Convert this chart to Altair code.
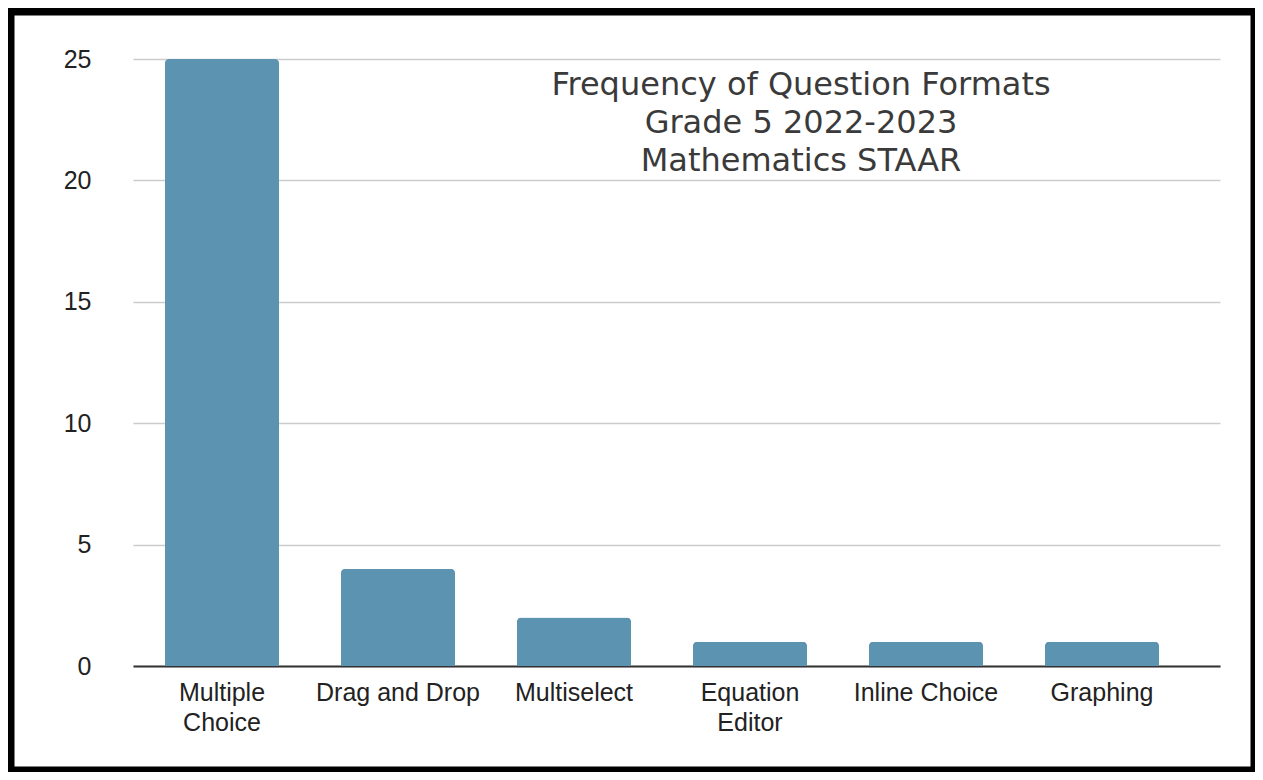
import altair as alt
import pandas as pd

categories = ["Multiple Choice", "Drag and Drop", "Multiselect", "Equation Editor", "Inline Choice", "Graphing"]
counts = [25, 4, 2, 1, 1, 1]
y_ticks = [0, 5, 10, 15, 20, 25]
title_lines = ["Frequency of Question Formats", "Grade 5 2022-2023", "Mathematics STAAR"]

df = pd.DataFrame({"format": categories, "count": counts})

W, H = 1087, 607

label_expr = ("indexof(['Multiple Choice','Equation Editor'], datum.value) >= 0 "
              "? split(datum.value, ' ') : datum.value")

bars = alt.Chart(df).mark_bar(
    color="#5b93b0", cornerRadiusTopLeft=4, cornerRadiusTopRight=4
).encode(
    x=alt.X("format:N", sort=categories, title=None,
            scale=alt.Scale(paddingInner=0.352, paddingOuter=0.264, align=0.344),
            axis=alt.Axis(labelAngle=0, labelExpr=label_expr, labelFontSize=25,
                          labelFont="Liberation Sans", labelColor="#222",
                          labelPadding=14, labelLineHeight=30, ticks=False,
                          domainColor="#333", domainWidth=2, labelLimit=400)),
    y=alt.Y("count:Q", title=None,
            scale=alt.Scale(domain=[0, 25], nice=False),
            axis=alt.Axis(values=y_ticks, labelFontSize=25, labelFont="Liberation Sans",
                          labelColor="#222", labelPadding=42, ticks=False, domain=False,
                          gridColor="#cccccc", gridWidth=1.5)),
)

title_df = pd.DataFrame({"t": [title_lines]})
title = alt.Chart(title_df).mark_text(
    font="DejaVu Sans", fontSize=32, color="#3a3a3a", align="center", baseline="top",
    lineHeight=38
).encode(
    x=alt.value(668), y=alt.value(11), text="t"
)

frame_df = pd.DataFrame({"k": [0]})
frame = alt.Chart(frame_df).mark_rect(
    fill=None, stroke="black", strokeWidth=9, fillOpacity=0
).encode(
    x=alt.value(-123), x2=alt.value(1122), y=alt.value(-48), y2=alt.value(712)
)

chart = alt.layer(bars, title, frame).properties(
    width=W, height=H,
    background="white",
    autosize=alt.AutoSizeParams(type="none"),
    padding={"left": 125, "top": 51, "right": 35, "bottom": 106},
).configure_view(stroke=None, strokeWidth=0)

chart.save("out.html", embed_options={"renderer": "svg", "actions": False})
